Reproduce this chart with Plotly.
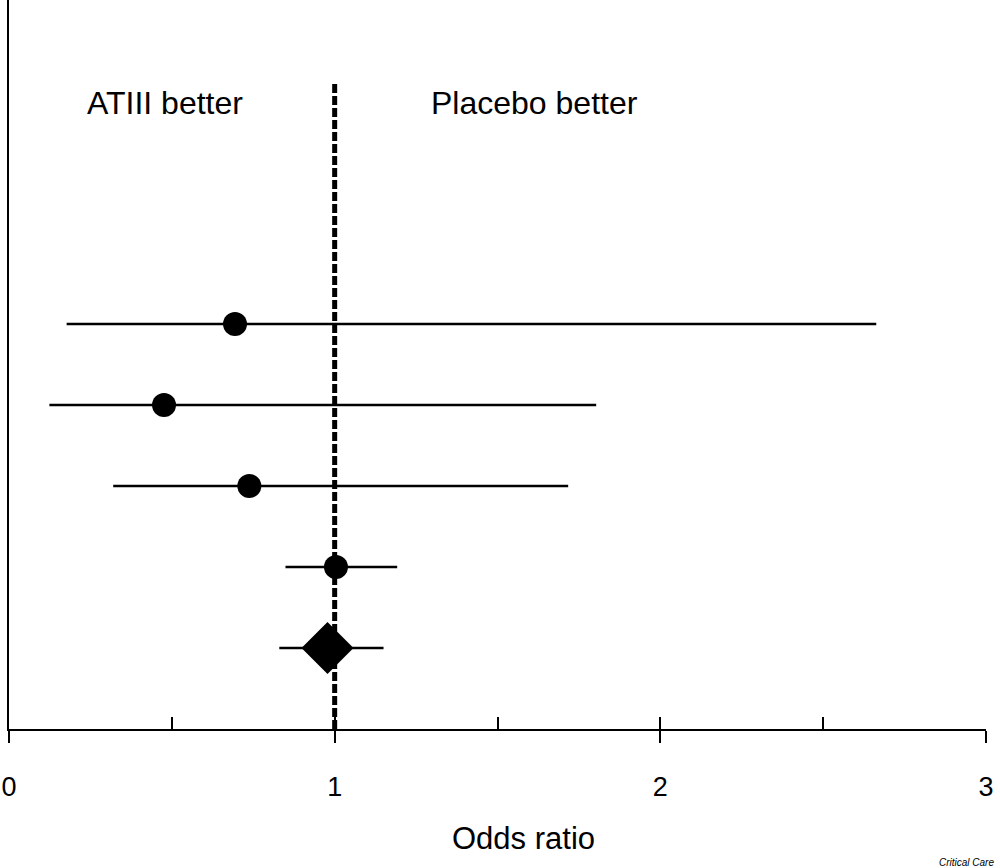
import plotly.graph_objects as go

# Forest plot: odds ratio per study + pooled estimate
rows = [5, 4, 3, 2]
odds = [0.694, 0.476, 0.738, 1.004]
ci_low = [0.177, 0.124, 0.320, 0.849]
ci_high = [2.663, 1.803, 1.717, 1.192]

pooled_row = [1]
pooled_or = [0.978]
pooled_low = [0.830]
pooled_high = [1.150]

ref_x = [1, 1]
ref_y = [0, 8]

tick_vals = [0, 1, 2, 3]
tick_text = ["0", "1", "2", "3"]

INK = "black"
FONT = "Liberation Sans, Arial, sans-serif"


def _err(lo, mid, hi):
    return dict(
        type="data", symmetric=False,
        array=[h - m for h, m in zip(hi, mid)],
        arrayminus=[m - l for m, l in zip(mid, lo)],
        color=INK, thickness=2.5, width=0,
    )


fig = go.Figure()
fig.add_trace(go.Scatter(
    x=ref_x, y=ref_y, mode="lines",
    line=dict(color=INK, width=5, dash="9px,3px"),
    hoverinfo="skip",
))
fig.add_trace(go.Scatter(
    x=odds, y=rows, mode="markers",
    marker=dict(symbol="circle", size=24, color=INK),
    error_x=_err(ci_low, odds, ci_high),
))
fig.add_trace(go.Scatter(
    x=pooled_or, y=pooled_row, mode="markers",
    marker=dict(symbol="diamond", size=40, color=INK),
    error_x=_err(pooled_low, pooled_or, pooled_high),
))
# overlay axis only for the short inward ticks every 0.5
fig.add_trace(go.Scatter(x=[0, 3], y=[0, 0], xaxis="x2", mode="markers",
                         marker=dict(opacity=0), hoverinfo="skip"))

fig.add_annotation(x=0.48, y=7.73, xref="x", yref="y", text="ATIII better",
                   showarrow=False, font=dict(size=32, family=FONT, color=INK))
fig.add_annotation(x=1.614, y=7.73, xref="x", yref="y", text="Placebo better",
                   showarrow=False, font=dict(size=32, family=FONT, color=INK))
fig.add_annotation(x=0.527, y=-0.15, xref="paper", yref="paper", yanchor="middle",
                   text="Odds ratio", showarrow=False,
                   font=dict(size=31, family=FONT, color=INK))
fig.add_annotation(x=1.0102, y=-0.183, xref="paper", yref="paper", xanchor="right",
                   yanchor="middle", text="<i>Critical Care</i>", showarrow=False,
                   font=dict(size=10, family=FONT, color=INK))

fig.update_layout(
    width=1000, height=868,
    margin=dict(l=9, r=14, t=0, b=139),
    plot_bgcolor="white", paper_bgcolor="white",
    showlegend=False,
    font=dict(family=FONT, color=INK),
    xaxis=dict(
        range=[0, 3], showgrid=False, zeroline=False,
        showline=True, linecolor=INK, linewidth=2,
        ticks="outside", ticklen=12, tickwidth=2, tickcolor=INK,
        tickvals=tick_vals, ticktext=tick_text,
        tickfont=dict(size=27, family=FONT, color=INK),
        ticklabelstandoff=21,
    ),
    xaxis2=dict(
        range=[0, 3], overlaying="x", anchor="y", side="bottom",
        showgrid=False, zeroline=False, showline=False,
        ticks="inside", ticklen=12, tickwidth=2, tickcolor=INK,
        dtick=0.5, tick0=0, showticklabels=False,
    ),
    yaxis=dict(
        range=[0, 9], showgrid=False, zeroline=False,
        showline=True, linecolor=INK, linewidth=2,
        ticks="", showticklabels=False,
    ),
)

# drop the default 8px page margin so the figure sits at the window corner
fig.write_html("out.html",
               config={"displayModeBar": False},
               post_script="document.body.style.margin='0';"
                           "document.body.style.overflow='hidden';")
